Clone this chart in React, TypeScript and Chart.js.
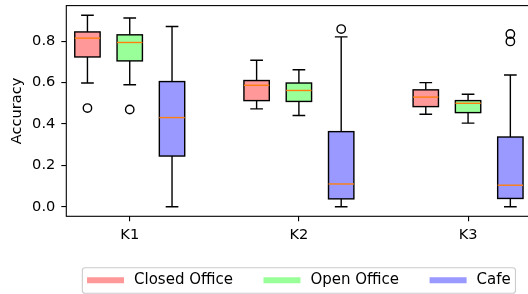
import React, { useEffect, useRef } from 'react';
import { Chart, registerables } from 'chart.js';

Chart.register(...registerables);

// ---------- data ----------
const categories = ['K1', 'K2', 'K3'];
const environments = ['Closed Office', 'Open Office', 'Cafe'];
const envColors = ['#ff9999', '#99ff99', '#9999ff'];

const closedLow = [0.598, 0.473, 0.447];
const closedQ1 = [0.724, 0.513, 0.484];
const closedMed = [0.815, 0.587, 0.530];
const closedQ3 = [0.845, 0.610, 0.565];
const closedHigh = [0.926, 0.708, 0.600];
const closedOut = [[0.477], [], []];

const openLow = [0.590, 0.441, 0.404];
const openQ1 = [0.705, 0.509, 0.455];
const openMed = [0.794, 0.562, 0.500];
const openQ3 = [0.831, 0.598, 0.513];
const openHigh = [0.912, 0.662, 0.544];
const openOut = [[0.470], [], []];

const cafeLow = [0.0, 0.0, 0.0];
const cafeQ1 = [0.245, 0.038, 0.040];
const cafeMed = [0.431, 0.110, 0.104];
const cafeQ3 = [0.605, 0.363, 0.337];
const cafeHigh = [0.871, 0.821, 0.637];
const cafeOut = [[], [0.859], [0.835, 0.799]];

const yTicks = [0.0, 0.2, 0.4, 0.6, 0.8];
const yLabel = 'Accuracy';

const stats = [
  { low: closedLow, q1: closedQ1, med: closedMed, q3: closedQ3, high: closedHigh, out: closedOut },
  { low: openLow, q1: openQ1, med: openMed, q3: openQ3, high: openHigh, out: openOut },
  { low: cafeLow, q1: cafeQ1, med: cafeMed, q3: cafeQ3, high: cafeHigh, out: cafeOut },
];

// ---------- layout constants (styles, not data) ----------
const GROUP_STEP = 4;
const OFFSETS = [-1, 0, 1];
const BOX_W = 0.6;
const FONT = 'DejaVu Sans';
const FONT_SIZE = 14.6;
const LINE_W = 1.4;

const posOf = (g: number, e: number) => g * GROUP_STEP + OFFSETS[e];

const allVals: number[] = [];
stats.forEach((s) => {
  allVals.push(...s.low, ...s.high);
  s.out.forEach((o) => allVals.push(...o));
});
const dMin = Math.min(...allVals);
const dMax = Math.max(...allVals);
const yPad = 0.05 * (dMax - dMin);

const boxPlugin = {
  id: 'boxes',
  beforeDatasetsDraw(chart: any) {
    const { ctx, scales } = chart;
    const x = scales.x;
    const y = scales.y;
    const unit = x.getPixelForValue(1) - x.getPixelForValue(0);
    ctx.save();
    stats.forEach((s, e) => {
      categories.forEach((_c, g) => {
        const cx = x.getPixelForValue(posOf(g, e));
        const half = (BOX_W / 2) * unit;
        const capHalf = half / 2;
        const yLow = y.getPixelForValue(s.low[g]);
        const yQ1 = y.getPixelForValue(s.q1[g]);
        const yMed = y.getPixelForValue(s.med[g]);
        const yQ3 = y.getPixelForValue(s.q3[g]);
        const yHigh = y.getPixelForValue(s.high[g]);
        ctx.lineWidth = LINE_W;
        ctx.strokeStyle = '#000';
        ctx.lineCap = 'butt';
        // whiskers
        ctx.beginPath();
        ctx.moveTo(cx, yQ1);
        ctx.lineTo(cx, yLow);
        ctx.moveTo(cx, yQ3);
        ctx.lineTo(cx, yHigh);
        // caps
        ctx.moveTo(cx - capHalf, yLow);
        ctx.lineTo(cx + capHalf, yLow);
        ctx.moveTo(cx - capHalf, yHigh);
        ctx.lineTo(cx + capHalf, yHigh);
        ctx.stroke();
        // box
        ctx.fillStyle = envColors[e];
        ctx.fillRect(cx - half, yQ3, 2 * half, yQ1 - yQ3);
        ctx.strokeRect(cx - half, yQ3, 2 * half, yQ1 - yQ3);
        // median
        ctx.strokeStyle = '#ff7f0e';
        ctx.beginPath();
        ctx.moveTo(cx - half, yMed);
        ctx.lineTo(cx + half, yMed);
        ctx.stroke();
      });
    });
    ctx.restore();
  },
  afterDatasetsDraw(chart: any) {
    const { ctx, chartArea } = chart;
    ctx.save();
    ctx.strokeStyle = '#000';
    ctx.lineWidth = 1.1;
    ctx.strokeRect(chartArea.left, chartArea.top, chartArea.right - chartArea.left, chartArea.bottom - chartArea.top);
    ctx.restore();
  },
  afterDraw(chart: any) {
    const { ctx, chartArea } = chart;
    ctx.save();
    ctx.font = `15px "${FONT}"`;
    const handleLen = 37;
    const handleGap = 10;
    const colGap = 30.5;
    const pad = 4.7;
    const widths = environments.map((t) => ctx.measureText(t).width);
    let content = 0;
    widths.forEach((w, i) => {
      content += handleLen + handleGap + w + (i < widths.length - 1 ? colGap : 0);
    });
    const frameW = content + 2 * pad;
    const cxm = (chartArea.left + chartArea.right) / 2;
    const fx = cxm - frameW / 2;
    const fy = chartArea.bottom + 51.4;
    const fh = 25.5;
    const r = 2.8;
    ctx.beginPath();
    ctx.moveTo(fx + r, fy);
    ctx.lineTo(fx + frameW - r, fy);
    ctx.arcTo(fx + frameW, fy, fx + frameW, fy + r, r);
    ctx.lineTo(fx + frameW, fy + fh - r);
    ctx.arcTo(fx + frameW, fy + fh, fx + frameW - r, fy + fh, r);
    ctx.lineTo(fx + r, fy + fh);
    ctx.arcTo(fx, fy + fh, fx, fy + fh - r, r);
    ctx.lineTo(fx, fy + r);
    ctx.arcTo(fx, fy, fx + r, fy, r);
    ctx.closePath();
    ctx.fillStyle = 'rgba(255,255,255,0.8)';
    ctx.fill();
    ctx.strokeStyle = '#cccccc';
    ctx.lineWidth = 1.1;
    ctx.stroke();
    const ly = fy + 12.5;
    let xx = fx + pad;
    environments.forEach((t, i) => {
      ctx.strokeStyle = envColors[i];
      ctx.lineWidth = 6;
      ctx.lineCap = 'butt';
      ctx.beginPath();
      ctx.moveTo(xx, ly);
      ctx.lineTo(xx + handleLen, ly);
      ctx.stroke();
      xx += handleLen + handleGap;
      ctx.fillStyle = '#000';
      ctx.textBaseline = 'middle';
      ctx.textAlign = 'left';
      ctx.fillText(t, xx, ly);
      xx += widths[i] + colGap;
    });
    ctx.restore();
  },
};

export default function App() {
  const ref = useRef<HTMLCanvasElement | null>(null);

  useEffect(() => {
    if (!ref.current) return;
    Chart.defaults.font.family = FONT;
    const datasets = environments.map((env, e) => {
      const pts: { x: number; y: number }[] = [];
      stats[e].out.forEach((arr, g) => arr.forEach((v) => pts.push({ x: posOf(g, e), y: v })));
      return {
        label: env,
        data: pts,
        pointStyle: 'circle',
        pointRadius: 4.2,
        pointHoverRadius: 4.2,
        pointBorderWidth: LINE_W,
        pointBorderColor: '#000',
        pointBackgroundColor: 'rgba(0,0,0,0)',
        showLine: false,
      };
    });

    const chart = new Chart(ref.current, {
      type: 'scatter',
      data: { datasets },
      options: {
        animation: false,
        responsive: false,
        events: [],
        layout: { padding: { top: 2.7, right: 8.5, left: 0, bottom: 0 } },
        plugins: { legend: { display: false }, tooltip: { enabled: false } },
        scales: {
          x: {
            type: 'linear',
            min: posOf(0, 0) - 0.5,
            max: posOf(categories.length - 1, environments.length - 1) + 0.5,
            afterBuildTicks: (scale: any) => {
              scale.ticks = categories.map((_c, i) => ({ value: i * GROUP_STEP }));
            },
            afterFit: (scale: any) => {
              scale.height = 77.7;
              scale.paddingLeft = 0;
              scale.paddingRight = 0;
            },
            ticks: {
              callback: (v: any) => categories[Math.round(Number(v) / GROUP_STEP)],
              color: '#000',
              font: { size: FONT_SIZE, family: FONT },
              padding: 5.5,
              maxRotation: 0,
              autoSkip: false,
            },
            grid: { display: true, drawOnChartArea: false, drawTicks: true, tickLength: 5, color: '#000', lineWidth: 1.1 },
            border: { display: false },
          },
          y: {
            type: 'linear',
            min: dMin - yPad,
            max: dMax + yPad,
            afterBuildTicks: (scale: any) => {
              scale.ticks = yTicks.map((v) => ({ value: v }));
            },
            afterFit: (scale: any) => {
              scale.width = 66.3;
              scale.paddingTop = 0;
              scale.paddingBottom = 0;
            },
            ticks: {
              callback: (v: any) => Number(v).toFixed(1),
              color: '#000',
              font: { size: FONT_SIZE, family: FONT },
              padding: 6,
              autoSkip: false,
            },
            title: {
              display: true,
              text: yLabel,
              color: '#000',
              font: { size: FONT_SIZE, family: FONT },
              padding: { top: 8, bottom: 0 },
            },
            grid: { display: true, drawOnChartArea: false, drawTicks: true, tickLength: 5, color: '#000', lineWidth: 1.1 },
            border: { display: false },
          },
        },
      },
      plugins: [boxPlugin],
    } as any);
    return () => chart.destroy();
  }, []);

  return (
    <div style={{ position: 'fixed', left: 0, top: 0, width: 528, height: 294, overflow: 'hidden', background: '#fff' }}>
      <canvas ref={ref} width={540} height={294} style={{ display: 'block', width: 540, height: 294 }} />
    </div>
  );
}
